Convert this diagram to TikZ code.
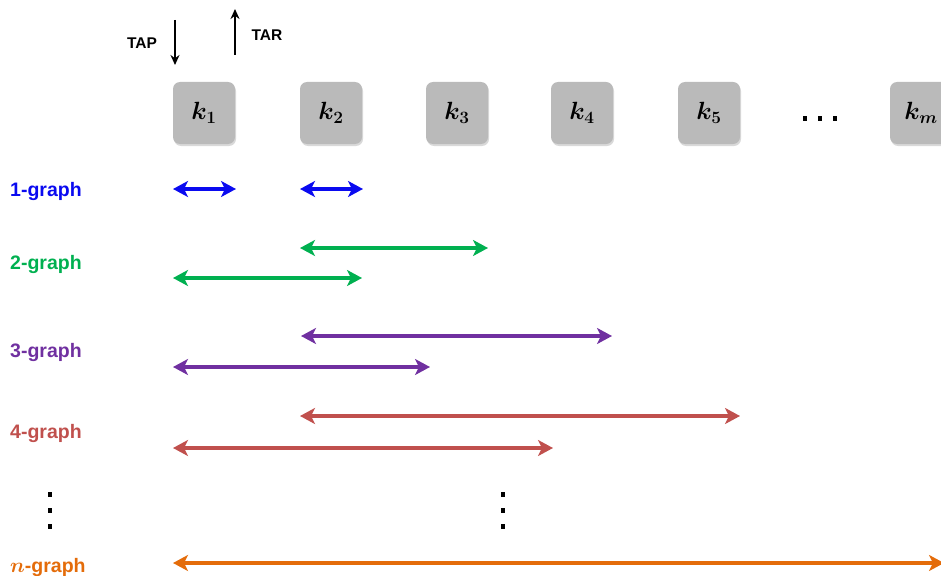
\documentclass[tikz,border=0pt]{standalone}
\usepackage{fontspec}
\usepackage{amsmath,bm}
\setmainfont{Liberation Sans}
\usetikzlibrary{arrows.meta,shadows}
\definecolor{cblue}{RGB}{10,10,240}
\definecolor{cgreen}{RGB}{0,176,80}
\definecolor{cpurple}{RGB}{112,48,160}
\definecolor{cred}{RGB}{192,80,77}
\definecolor{corange}{RGB}{228,108,10}
\definecolor{kgray}{RGB}{186,186,186}
\tikzset{
  kbox/.style={draw=none,fill=kgray,rounded corners=7pt,minimum width=62pt,minimum height=62pt,
    drop shadow={shadow xshift=1pt,shadow yshift=-2pt,opacity=0.3},font=\fontsize{23}{26}\selectfont},
  glabel/.style={font=\bfseries\fontsize{19.5}{22}\selectfont,anchor=base west,inner sep=0pt},
  span/.style={line width=3.6pt,{Stealth[length=15pt,width=16pt,inset=4pt]}-{Stealth[length=15pt,width=16pt,inset=4pt]}},
  vflow/.style={line width=1.6pt,-{Stealth[length=10pt,width=9pt]}},
  small/.style={font=\bfseries\fontsize{15.5}{17}\selectfont,inner sep=0pt},
  dot/.style={fill=black,minimum width=4pt,minimum height=5pt,inner sep=0pt,draw=none}
}
\begin{document}
\begin{tikzpicture}[x=1pt,y=-1pt]
\useasboundingbox (0,0) rectangle (941,575);
\clip (0,0) rectangle (941,575);
% TAP / TAR
\coordinate (tapS) at (175,20); \coordinate (tapE) at (175,65);
\draw[vflow] (tapS) -- (tapE);
\node[small] (tap) at (142,43) {TAP};
\coordinate (tarS) at (235,55); \coordinate (tarE) at (235,9);
\draw[vflow] (tarS) -- (tarE);
\node[small] (tar) at (267,35) {TAR};
% boxes
\node[kbox] (k1) at (204,113) {$\bm{k_1}$};
\node[kbox] (k2) at (331,113) {$\bm{k_2}$};
\node[kbox] (k3) at (457,113) {$\bm{k_3}$};
\node[kbox] (k4) at (582,113) {$\bm{k_4}$};
\node[kbox] (k5) at (709,113) {$\bm{k_5}$};
\node[kbox] (km) at (921,113) {$\bm{k_m}$};
\node[dot] (h1) at (805,118) {};
\node[dot] (h2) at (820,118) {};
\node[dot] (h3) at (835,118) {};
% labels
\node[glabel,text=cblue] (l1) at (10,196) {1-graph};
\node[glabel,text=cgreen] (l2) at (10,269) {2-graph};
\node[glabel,text=cpurple] (l3) at (10,357) {3-graph};
\node[glabel,text=cred] (l4) at (10,438) {4-graph};
\node[glabel,text=corange] (ln) at (10,572) {$\bm{n}$-graph};
% spans
\coordinate (a1) at (173,189); \coordinate (b1) at (236,189);
\coordinate (a2) at (300,189); \coordinate (b2) at (363,189);
\draw[span,cblue,line width=4.2pt] (a1) -- (b1);
\draw[span,cblue,line width=4.2pt] (a2) -- (b2);
\coordinate (c1) at (300,248); \coordinate (d1) at (488,248);
\coordinate (c2) at (173,278); \coordinate (d2) at (362,278);
\draw[span,cgreen] (c1) -- (d1);
\draw[span,cgreen] (c2) -- (d2);
\coordinate (e1) at (301,336); \coordinate (f1) at (612,336);
\coordinate (e2) at (173,367); \coordinate (f2) at (430,367);
\draw[span,cpurple] (e1) -- (f1);
\draw[span,cpurple] (e2) -- (f2);
\coordinate (g1) at (300,416); \coordinate (h1e) at (740,416);
\coordinate (g2) at (173,448); \coordinate (h2e) at (553,448);
\draw[span,cred] (g1) -- (h1e);
\draw[span,cred] (g2) -- (h2e);
\coordinate (n1) at (173,563); \coordinate (n2) at (944,563);
\draw[span,corange] (n1) -- (n2);
% vertical dots
\node[dot] (v1) at (50,494) {};
\node[dot] (v2) at (50,510) {};
\node[dot] (v3) at (50,526) {};
\node[dot] (w1) at (503,494) {};
\node[dot] (w2) at (503,510) {};
\node[dot] (w3) at (503,526) {};
\end{tikzpicture}
\end{document}
